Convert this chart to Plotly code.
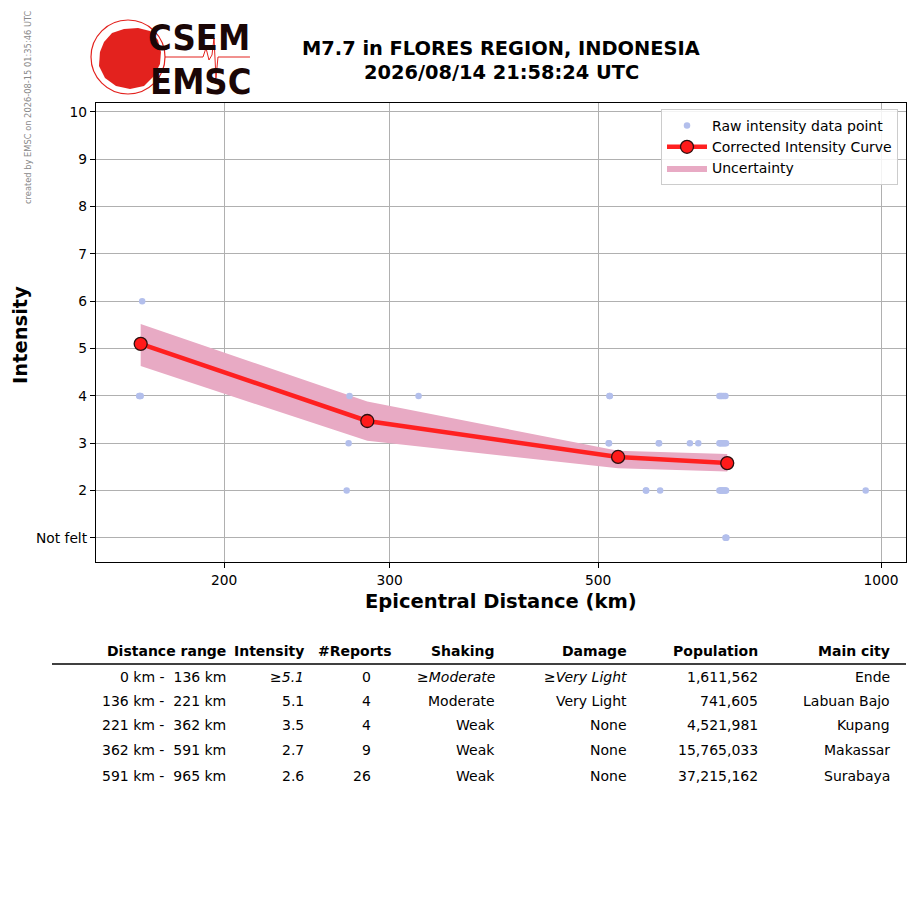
"""EMSC felt-report intensity vs distance chart (M7.7 Flores Region)."""

import numpy as np
import plotly.graph_objects as go

# the page puts the figure 8px in from the top-left corner
OFF = 8
W, H = 915 - 2 * OFF, 905 - 2 * OFF
PLOT_L, PLOT_R, PLOT_T, PLOT_B = 96, 906, 103, 562

# raw felt reports (distance km, intensity)
raw_dist = [163.6, 162.4, 163.0, 162.7,
            271.9, 271.3, 270.0, 322.0,
            514.0, 513.0, 513.5, 562.0, 582.0, 580.0, 514.5, 562.5, 580.5,
            626.0, 639.0, 963.0,
            673, 675, 677, 680, 683,
            673, 674, 676, 678, 680, 682, 684,
            673, 675, 677, 679, 681, 683, 684, 676,
            683, 684, 684.5]
raw_int = [6, 4, 4, 4,
           4, 3, 2, 4,
           4, 3, 3, 2, 2, 3, 4, 2, 3,
           3, 3, 2,
           4, 4, 4, 4, 4,
           3, 3, 3, 3, 3, 3, 3,
           2, 2, 2, 2, 2, 2, 2, 2,
           1, 1, 1]

# corrected curve and uncertainty band
curve_dist = [163.0, 284.0, 525.0, 686.0]
curve_int = [5.1, 3.47, 2.71, 2.58]
band_upper = [5.52, 3.88, 2.84, 2.77]
band_lower = [4.63, 3.05, 2.47, 2.40]

y_ticks = [1, 2, 3, 4, 5, 6, 7, 8, 9, 10]
y_labels = ['Not felt', '2', '3', '4', '5', '6', '7', '8', '9', '10']
x_ticks = [200, 300, 500, 1000]

# summary table
tbl_headers = ['Distance range', 'Intensity', '#Reports', 'Shaking', 'Damage',
               'Population', 'Main city']
tbl_range = ['0 km -  136 km', '136 km -  221 km', '221 km -  362 km',
             '362 km -  591 km', '591 km -  965 km']
tbl_intensity = ['<i>≥5.1</i>', '5.1', '3.5', '2.7', '2.6']
tbl_reports = ['0', '4', '4', '9', '26']
tbl_shaking = ['<i>≥Moderate</i>', 'Moderate', 'Weak', 'Weak', 'Weak']
tbl_damage = ['<i>≥Very Light</i>', 'Very Light', 'None', 'None', 'None']
tbl_population = ['1,611,562', '741,605', '4,521,981', '15,765,033', '37,215,162']
tbl_city = ['Ende', 'Labuan Bajo', 'Kupang', 'Makassar', 'Surabaya']


def px(x, y):
    """pixel position on the page -> paper coords of the plot area"""
    return ((x - PLOT_L) / (PLOT_R - PLOT_L), (PLOT_B - y) / (PLOT_B - PLOT_T))


fig = go.Figure()

# uncertainty band: lower edge, then upper edge filled down to it
fig.add_trace(go.Scatter(
    x=curve_dist, y=band_lower, mode='lines',
    line=dict(width=0, color='#e8aac4'),
    showlegend=False, hoverinfo='skip',
))
fig.add_trace(go.Scatter(
    x=curve_dist, y=band_upper, mode='lines',
    fill='tonexty', fillcolor='#e8aac4',
    line=dict(width=0, color='#e8aac4'),
    name='Uncertainty', legendrank=3, hoverinfo='skip',
))
fig.add_trace(go.Scatter(
    x=raw_dist, y=raw_int, mode='markers',
    marker=dict(size=6.5, color='#b3bfec'),
    name='Raw intensity data point', legendrank=1,
))
fig.add_trace(go.Scatter(
    x=curve_dist, y=curve_int, mode='lines+markers',
    line=dict(color='#ff2020', width=4.5),
    marker=dict(size=13, color='#ff1a1a', line=dict(color='#2a1010', width=1.3)),
    name='Corrected Intensity Curve', legendrank=2,
))

axis_common = dict(
    showgrid=True, gridcolor='#b0b0b0', gridwidth=1,
    showline=True, linecolor='black', linewidth=1.2, mirror=True,
    ticks='outside', ticklen=5, tickcolor='black',
    tickfont=dict(size=13.8, color='black'), zeroline=False,
)
fig.update_xaxes(type='log', range=[np.log10(146.1), np.log10(1063)],
                 tickvals=x_ticks, ticktext=[str(v) for v in x_ticks], **axis_common)
fig.update_yaxes(range=[0.49, 10.19], tickvals=y_ticks, ticktext=y_labels, **axis_common)

ann = []


def add_text(x, y, text, size, **kw):
    px_x, px_y = px(x, y)
    d = dict(x=px_x, y=px_y, xref='paper', yref='paper', text=text, showarrow=False,
             xanchor='center', yanchor='middle',
             font=dict(size=size, color=kw.pop('color', 'black'),
                       family=kw.pop('family', 'DejaVu Sans')))
    d.update(kw)
    ann.append(d)


# titles
add_text(501, 49, '<b>M7.7 in FLORES REGION, INDONESIA</b>', 19.4)
add_text(501, 72, '<b>2026/08/14 21:58:24 UTC</b>', 19.4)
add_text(501, 601, '<b>Epicentral Distance (km)</b>', 19.5)
add_text(20, 335, '<b>Intensity</b>', 19.5, textangle=-90)
add_text(28, 107, 'created by EMSC on 2026-08-15 01:35:46 UTC', 8.3,
         color='#888888', textangle=-90)

# logo text
logo_font = 'DejaVu Sans Condensed, Liberation Sans'
add_text(199, 37, '<b>CSEM</b>', 36, color='#1a0606', family=logo_font)
add_text(200, 81, '<b>EMSC</b>', 36, color='#1a0606', family=logo_font)

# table
col_right = [228, 306, 394, 497, 629, 760, 892]
val_right = [228, 306, 373, 497, 629, 760, 892]
row_y = [677, 701, 725, 750, 776]
for hdr, xr in zip(tbl_headers, col_right):
    add_text(xr, 651, f'<b>{hdr}</b>', 14, xanchor='right')
columns = [tbl_range, tbl_intensity, tbl_reports, tbl_shaking, tbl_damage,
           tbl_population, tbl_city]
for col, xr in zip(columns, val_right):
    for val, yy in zip(col, row_y):
        add_text(xr, yy, val, 14, xanchor='right')

shapes = []
x0, y0 = px(52, 664)
x1, _ = px(906, 664)
shapes.append(dict(type='line', xref='paper', yref='paper', x0=x0, x1=x1, y0=y0, y1=y0,
                   line=dict(color='black', width=1.3)))

# logo globe + seismogram
seis = [(165, 57), (203, 57), (206, 48), (209, 60), (212, 55), (214, 38),
        (216, 78), (218, 57), (250, 57)]
path = 'M ' + ' L '.join(f'{px(a, b)[0]:.4f},{px(a, b)[1]:.4f}' for a, b in seis)
shapes.append(dict(type='path', xref='paper', yref='paper', path=path, layer='below',
                   line=dict(color='#e3221e', width=1)))
cx0, cy0 = px(91, 20)
cx1, cy1 = px(165, 94)
shapes.append(dict(type='circle', xref='paper', yref='paper', x0=cx0, x1=cx1, y0=cy1, y1=cy0,
                   line=dict(color='#e3221e', width=1.2), fillcolor='white'))
blob = [(104, 42), (112, 33), (124, 29), (138, 28), (150, 31), (158, 40), (161, 52),
        (160, 64), (154, 76), (144, 86), (130, 89), (116, 86), (105, 78), (99, 66),
        (100, 52)]
bpath = 'M ' + ' L '.join(f'{px(a, b)[0]:.4f},{px(a, b)[1]:.4f}' for a, b in blob) + ' Z'
shapes.append(dict(type='path', xref='paper', yref='paper', path=bpath,
                   line=dict(width=0), fillcolor='#e3221e'))

lx, ly = px(898, 109)
fig.update_layout(
    width=W, height=H,
    margin=dict(l=PLOT_L - OFF, r=OFF + W - PLOT_R, t=PLOT_T - OFF, b=OFF + H - PLOT_B),
    plot_bgcolor='white', paper_bgcolor='white',
    font=dict(family='DejaVu Sans', color='black'),
    annotations=ann, shapes=shapes,
    legend=dict(x=lx, y=ly, xanchor='right', yanchor='top', traceorder='normal',
                bgcolor='rgba(255,255,255,0.85)', bordercolor='#cccccc', borderwidth=1,
                font=dict(size=14), tracegroupgap=0, itemwidth=40),
)

fig.write_html('out.html')
